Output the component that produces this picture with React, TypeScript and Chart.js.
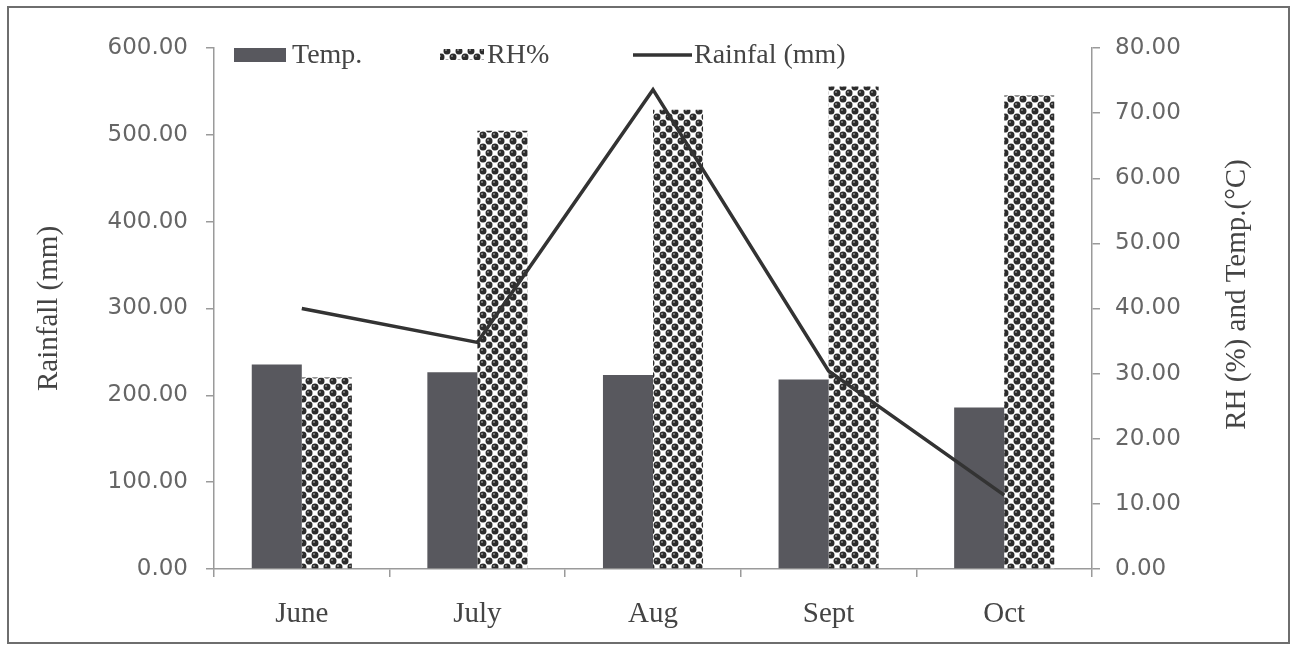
import React, { useEffect, useRef } from "react";
import { Chart, registerables } from "chart.js";

Chart.register(...registerables);

const categories = ["June", "July", "Aug", "Sept", "Oct"];
const tempValues = [31.4, 30.2, 29.8, 29.1, 24.8];
const rhValues = [29.4, 67.3, 70.5, 74.1, 72.7];
const rainfallValues = [300, 261, 552, 228, 85];
const leftTicks = [0, 100, 200, 300, 400, 500, 600];
const rightTicks = [0, 10, 20, 30, 40, 50, 60, 70, 80];
const legendLabels = ["Temp.", "RH%", "Rainfal (mm)"];
const leftTitle = "Rainfall (mm)";
const rightTitle = "RH (%) and Temp.(\u00B0C)";

const W = 1293;
const H = 647;
const TEMP_COLOR = "#58585e";
const LINE_COLOR = "#333333";
const AXIS_COLOR = "#9a9a9a";
const SERIF = "'Liberation Serif', 'Times New Roman', serif";
const SANS = "'DejaVu Sans', Verdana, sans-serif";

function makePattern(): CanvasPattern | string {
  const S = 12;
  const c = document.createElement("canvas");
  c.width = S;
  c.height = S;
  const g = c.getContext("2d");
  if (!g) return "#444";
  g.fillStyle = "#ffffff";
  g.fillRect(0, 0, S, S);
  const base = [
    [3, 3],
    [9, 9],
  ];
  for (const [bx, by] of base) {
    for (const ox of [-S, 0, S]) {
      for (const oy of [-S, 0, S]) {
        const x = bx + ox;
        const y = by + oy;
        g.beginPath();
        g.arc(x, y, 3.5, 0, Math.PI * 2);
        g.fillStyle = "#2c2c2c";
        g.fill();
        g.beginPath();
        g.arc(x - 1, y - 1, 1, 0, Math.PI * 2);
        g.fillStyle = "#8c8c8c";
        g.fill();
      }
    }
  }
  const p = g.createPattern(c, "repeat");
  return p || "#444";
}

export default function App() {
  const ref = useRef<HTMLCanvasElement | null>(null);

  useEffect(() => {
    if (!ref.current) return;
    const pattern = makePattern();

    const overlay = {
      id: "overlay",
      afterDraw(chart: any) {
        const ctx = chart.ctx as CanvasRenderingContext2D;
        ctx.save();
        ctx.font = `28px ${SERIF}`;
        ctx.textBaseline = "middle";
        ctx.textAlign = "left";
        const cy = 55;
        // Temp
        ctx.fillStyle = TEMP_COLOR;
        ctx.fillRect(234, cy - 7, 52, 14);
        ctx.fillStyle = "#444";
        ctx.fillText(legendLabels[0], 292, cy + 1);
        // RH
        ctx.fillStyle = pattern as any;
        ctx.fillRect(440, cy - 6, 44, 11);
        ctx.fillStyle = "#444";
        ctx.fillText(legendLabels[1], 487, cy + 1);
        // Rainfall
        ctx.strokeStyle = LINE_COLOR;
        ctx.lineWidth = 3.5;
        ctx.beginPath();
        ctx.moveTo(633, cy);
        ctx.lineTo(692, cy);
        ctx.stroke();
        ctx.fillStyle = "#444";
        ctx.fillText(legendLabels[2], 694, cy + 1);

        // right axis title (reads bottom to top)
        const area = chart.chartArea;
        ctx.translate(1237, (area.top + area.bottom) / 2 - 14);
        ctx.rotate(-Math.PI / 2);
        ctx.textAlign = "center";
        ctx.font = `29px ${SERIF}`;
        ctx.fillStyle = "#444";
        ctx.fillText(rightTitle, 0, 0);
        ctx.restore();
      },
    };

    const chart = new Chart(ref.current, {
      type: "bar",
      data: {
        labels: categories,
        datasets: [
          {
            type: "line",
            label: legendLabels[2],
            data: rainfallValues,
            yAxisID: "y",
            borderColor: LINE_COLOR,
            borderWidth: 3.5,
            pointRadius: 0,
            tension: 0,
            fill: false,
            order: 0,
          } as any,
          {
            type: "bar",
            label: legendLabels[0],
            data: tempValues,
            yAxisID: "y1",
            backgroundColor: TEMP_COLOR,
            borderWidth: 0,
            categoryPercentage: 0.57,
            barPercentage: 1,
            order: 1,
          },
          {
            type: "bar",
            label: legendLabels[1],
            data: rhValues,
            yAxisID: "y1",
            backgroundColor: pattern as any,
            borderWidth: 0,
            categoryPercentage: 0.57,
            barPercentage: 1,
            order: 2,
          },
        ],
      },
      options: {
        animation: false,
        responsive: false,
        devicePixelRatio: 1,
        layout: { padding: { top: 48, left: 0, right: 0, bottom: 0 } },
        plugins: {
          legend: { display: false },
          tooltip: { enabled: false },
        },
        scales: {
          x: {
            grid: {
              offset: true,
              drawOnChartArea: false,
              drawTicks: true,
              tickLength: 8,
              color: AXIS_COLOR,
              lineWidth: 1.5,
            },
            border: { color: AXIS_COLOR, width: 1.5 },
            ticks: {
              font: { family: SERIF, size: 29 },
              color: "#444",
              padding: 20,
            },
            afterFit: (s: any) => {
              s.height = 78;
            },
          },
          y: {
            position: "left",
            min: 0,
            max: 600,
            afterBuildTicks: (s: any) => {
              s.ticks = leftTicks.map((v) => ({ value: v }));
            },
            ticks: {
              callback: (v: any) => Number(v).toFixed(2),
              font: { family: SANS, size: 23 },
              color: "#666",
              padding: 18,
            },
            grid: {
              drawOnChartArea: false,
              tickLength: 8,
              color: AXIS_COLOR,
              lineWidth: 1.5,
            },
            border: { color: AXIS_COLOR, width: 1.5 },
            title: {
              display: true,
              text: leftTitle,
              font: { family: SERIF, size: 29 },
              color: "#444",
              padding: { top: 32, bottom: 0 },
            },
            afterFit: (s: any) => {
              s.width = 214;
            },
          },
          y1: {
            position: "right",
            min: 0,
            max: 80,
            afterBuildTicks: (s: any) => {
              s.ticks = rightTicks.map((v) => ({ value: v }));
            },
            ticks: {
              callback: (v: any) => Number(v).toFixed(2),
              font: { family: SANS, size: 23 },
              color: "#666",
              padding: 15,
            },
            grid: {
              drawOnChartArea: false,
              tickLength: 8,
              color: AXIS_COLOR,
              lineWidth: 1.5,
            },
            border: { color: AXIS_COLOR, width: 1.5 },
            afterFit: (s: any) => {
              s.width = W - 1092;
            },
          },
        },
      },
      plugins: [overlay],
    });

    return () => chart.destroy();
  }, []);

  return (
    <div
      style={{
        position: "absolute",
        left: 0,
        top: 0,
        width: W,
        height: H,
        background: "#fff",
      }}
    >
      <canvas ref={ref} width={W} height={H} style={{ display: "block" }} />
      <div
        style={{
          position: "absolute",
          left: 7,
          top: 6,
          width: 1279,
          height: 634,
          border: "2px solid #6e6e6e",
          pointerEvents: "none",
        }}
      />
    </div>
  );
}
